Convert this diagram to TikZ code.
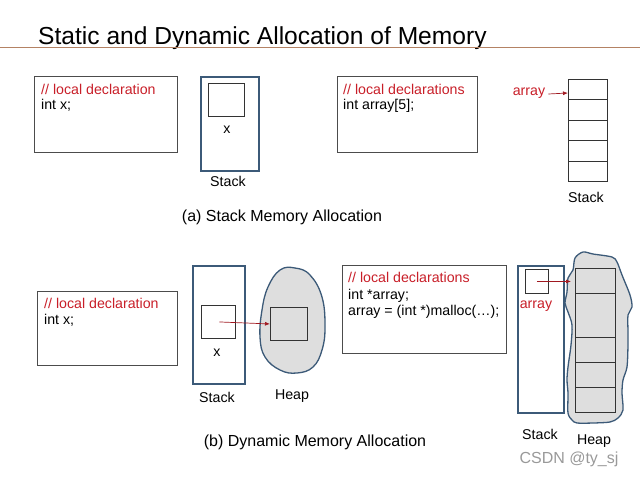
\documentclass[tikz,border=0pt]{standalone}
\usepackage{fontspec}
\setmainfont{Liberation Sans}
\usetikzlibrary{arrows.meta,positioning}
\definecolor{stackblue}{RGB}{60,90,120}
\definecolor{cmtred}{RGB}{200,30,40}
\definecolor{rulebrown}{RGB}{180,130,100}
\definecolor{heapgray}{RGB}{222,222,222}
\tikzset{
  codebox/.style={draw=black!70,line width=0.8pt,inner sep=0pt,anchor=north west},
  stackbox/.style={draw=stackblue,line width=1.6pt,inner sep=0pt,anchor=north west},
  slot/.style={draw=black!80,line width=0.9pt,inner sep=0pt,anchor=north west},
  txt/.style={font=\fontsize{14.2}{16}\selectfont,inner sep=0pt,anchor=base west},
  cmt/.style={txt,text=cmtred},
  lbl/.style={font=\fontsize{14.2}{16}\selectfont,inner sep=0pt},
  ptr/.style={draw=cmtred!80!black,line width=0.7pt,-{Latex[length=5pt,width=4pt]}},
  heap/.style={draw=stackblue,line width=1.3pt,fill=heapgray},
}
\begin{document}
\begin{tikzpicture}[x=1pt,y=-1pt]
\useasboundingbox (0,0) rectangle (640,480);
\node[font=\fontsize{24.6}{28}\selectfont,inner sep=0pt,anchor=base west] (title) at (38,44) {Static and Dynamic Allocation of Memory};
\draw[rulebrown,line width=1.2pt] (0,47.5) -- (640,47.5);

\node[codebox,minimum width=143pt,minimum height=76pt] (decla) at (34,76) {};
\node[cmt] (cmta) at (41,94) {// local declaration};
\node[txt] (inta) at (41,109) {int x;};
\node[stackbox,minimum width=58pt,minimum height=94pt] (stacka) at (200,76) {};
\node[slot,minimum width=36pt,minimum height=33pt] (xa) at (208,83) {};
\node[lbl] (xlbla) at (227,130) {x};
\node[lbl] (stlbla) at (228,181) {Stack};

\node[codebox,minimum width=140pt,minimum height=76pt] (declb) at (337,76) {};
\node[cmt] (cmtb) at (343,94) {// local declarations};
\node[txt] (intb) at (343,109) {int array[5];};
\foreach \i in {0,...,4}
  \node[slot,minimum width=39pt,minimum height=20.4pt] (cell\i) at (568,79+20.4*\i) {};
\node[lbl,text=cmtred] (arrlbl) at (529,93) {array};
\draw[ptr] (arrlbl.east) ++(3,1) -- (arrlbl.east -| cell0.west);
\node[lbl] (stlblb) at (586,197) {Stack};
\node[font=\fontsize{16}{18}\selectfont,inner sep=0pt] (capa) at (282,217) {(a) Stack Memory Allocation};

\node[codebox,minimum width=140pt,minimum height=74pt] (declc) at (37,291) {};
\node[cmt] (cmtc) at (44,308) {// local declaration};
\node[txt] (intc) at (44,324) {int x;};
\node[stackbox,minimum width=52pt,minimum height=118pt] (stackc) at (192,265) {};
\node[slot,minimum width=34pt,minimum height=33pt] (xc) at (201,305) {};
\node[lbl] (xlblc) at (217,353) {x};
\node[lbl] (stlblc) at (217,397) {Stack};
\draw[heap] plot[smooth cycle,tension=0.7] coordinates {(280,270) (295,268) (310,275) (322,297) (325,327) (322,350) (313,367) (297,373) (280,370) (265,357) (260,337) (262,310) (268,287)};
\node[slot,fill=heapgray,minimum width=37pt,minimum height=33pt] (hc) at (270,307) {};
\draw[ptr] (xc.center) ++(1,0) -- (hc.west);
\node[lbl] (hplblc) at (292,396) {Heap};

\node[codebox,minimum width=164pt,minimum height=88pt] (decld) at (342,265) {};
\node[cmt] (cmtd) at (348,282) {// local declarations};
\node[txt] (intd) at (348,299) {int *array;};
\node[txt] (mald) at (348,315) {array = (int *)malloc(\dots);};
\node[stackbox,minimum width=46pt,minimum height=147pt] (stackd) at (517,265) {};
\node[slot,minimum width=23pt,minimum height=24pt] (pd) at (525,269) {};
\node[lbl,text=cmtred] (arrlbld) at (536,306) {array};
\draw[heap] plot[smooth cycle,tension=0.5] coordinates {(583,252) (593,254) (612,257) (617,262) (622,275) (630,295) (632,307) (628,315) (628,332) (628,345) (627,367) (623,380) (622,393) (623,410) (618,418) (610,422) (593,423) (577,423) (572,420) (568,413) (568,393) (567,380) (568,367) (571,345) (572,325) (568,312) (565,303) (567,292) (568,278) (573,270) (575,258)};
\foreach \i/\a/\b in {0/268/293,1/293/336.7,2/336.7/361.7,3/361.7/386.7,4/386.7/411.7}
  \node[slot,fill=heapgray,minimum width=40pt,minimum height=\b pt-\a pt] (hcell\i) at (575,\a) {};
\draw[ptr] (pd.center) -- ([xshift=-4pt]pd.center -| hcell0.west);
\node[lbl] (stlbld) at (540,434) {Stack};
\node[lbl] (hplbld) at (594,441) {Heap};
\node[font=\fontsize{16}{18}\selectfont,inner sep=0pt] (capb) at (315,442) {(b) Dynamic Memory Allocation};

\node[font=\fontsize{16}{18}\selectfont,inner sep=0pt,text=black!40] (mark) at (569,459) {CSDN @ty\_sj};
\end{tikzpicture}
\end{document}
